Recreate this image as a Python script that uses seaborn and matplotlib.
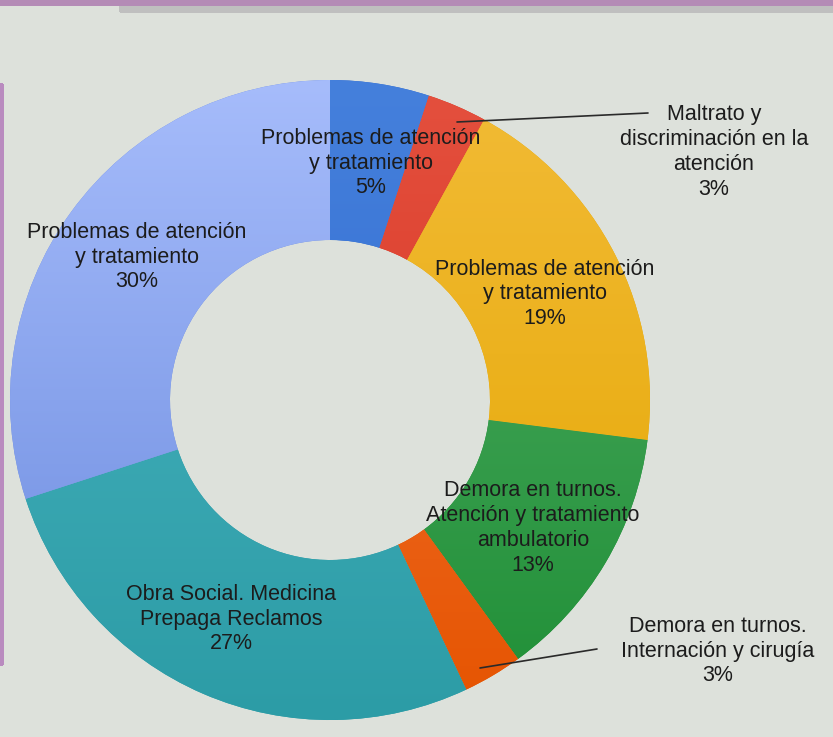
import numpy as np
import matplotlib
matplotlib.use("Agg")
import matplotlib.pyplot as plt
from matplotlib.colors import LinearSegmentedColormap
from matplotlib.patches import Rectangle
import seaborn as sns

# Complaint categories, clockwise from 12 o'clock
categories = [
    "Problemas de atención\ny tratamiento",
    "Maltrato y\ndiscriminación en la\natención",
    "Problemas de atención\ny tratamiento",
    "Demora en turnos.\nAtención y tratamiento\nambulatorio",
    "Demora en turnos.\nInternación y cirugía",
    "Obra Social. Medicina\nPrepaga Reclamos",
    "Problemas de atención\ny tratamiento",
]
percentages = [5, 3, 19, 13, 3, 27, 30]

# Vertical gradient (top colour, bottom colour) for each slice
top_colors = ["#4580dc", "#e4503e", "#f2bb36", "#52ad66", "#f27840", "#4cb6c2", "#a6bcfb"]
bottom_colors = ["#2c66cc", "#d42e1c", "#e4a600", "#1f8f36", "#e65400", "#2c9ca6", "#6a8ade"]

# Label anchor points in pixels (x, y from top) and optional leader lines
label_pos = [(371, 163), (714, 152), (545, 294), (533, 528), (718, 651), (231, 619), (137, 257)]
leaders = {1: ((457, 122), (648, 113)), 4: ((480, 668), (597, 649))}

W, H, DPI = 833, 737, 100
CX, CY, R = 330, 400, 320
BG = "#dde1db"

sns.set_theme(style="white")
plt.rcParams["font.family"] = ["Liberation Sans", "DejaVu Sans"]

fig = plt.figure(figsize=(W / DPI, H / DPI), dpi=DPI, facecolor=BG)

# Frame decorations along the top and left edge
fig.patches.append(Rectangle((120 / W, 1 - 11 / H), 1, 7 / H, transform=fig.transFigure,
                             color="#bfbfbf", zorder=0, antialiased=False))
fig.patches.append(Rectangle((0, 1 - 4 / H), 1, 4 / H, transform=fig.transFigure,
                             color="#b48bb6", zorder=1, antialiased=False))
fig.patches.append(Rectangle((0, 1 - 664 / H), 2 / W, 580 / H, transform=fig.transFigure,
                             color="#b98bbf", zorder=1, antialiased=False))

ax = fig.add_axes([(CX - R) / W, (H - CY - R) / H, 2 * R / W, 2 * R / H])
ax.set_facecolor("none")

wedges, _ = ax.pie(percentages, startangle=90, counterclock=False, radius=1,
                   colors=bottom_colors,
                   wedgeprops=dict(width=0.5, linewidth=0))

grad = np.linspace(0, 1, 256).reshape(-1, 1)
for w, c0, c1 in zip(wedges, top_colors, bottom_colors):
    cmap = LinearSegmentedColormap.from_list("g", [c0, c1])
    im = ax.imshow(grad, cmap=cmap, extent=(-1, 1, -1, 1), origin="upper",
                   aspect="auto", zorder=w.get_zorder() + 0.1, interpolation="bilinear")
    im.set_clip_path(w)

ax.set_xlim(-1, 1)
ax.set_ylim(-1, 1)
ax.set_aspect("equal")
ax.axis("off")


def to_data(px, py):
    return (px - CX) / R, (CY - py) / R


for i, (cat, pct) in enumerate(zip(categories, percentages)):
    x, y = to_data(*label_pos[i])
    ax.text(x, y, f"{cat}\n{pct}%", ha="center", va="center", fontsize=15.5,
            color="#1c1c1c", linespacing=1.24, zorder=10, clip_on=False)

for (p0, p1) in leaders.values():
    x0, y0 = to_data(*p0)
    x1, y1 = to_data(*p1)
    ax.plot([x0, x1], [y0, y1], color="#2a2a2a", lw=1.2, zorder=9, clip_on=False)

fig.savefig("out.png", dpi=DPI, facecolor=BG)
